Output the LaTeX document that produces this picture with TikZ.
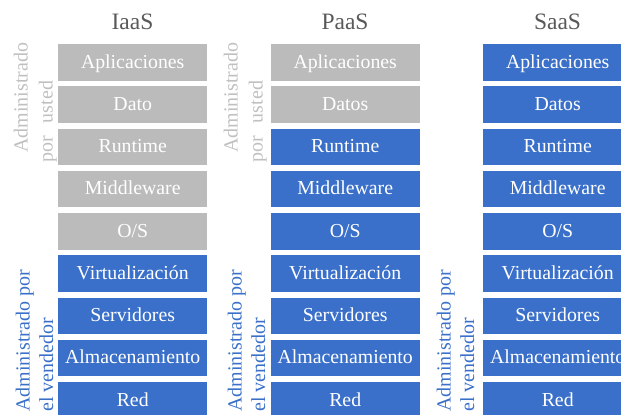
\documentclass[tikz,border=0pt]{standalone}
\usepackage{fontspec}
\setmainfont{Liberation Serif}
\definecolor{boxgray}{HTML}{BBBBBB}
\definecolor{boxblue}{HTML}{3A70C9}
\definecolor{titlegray}{HTML}{595959}
\definecolor{labelgray}{HTML}{C0C0C0}

\begin{document}
\begin{tikzpicture}[x=1bp,y=-1bp,
  layer/.style={minimum width=149bp, minimum height=36.5bp, inner sep=0pt,
    anchor=north west, text=white, text height=14.5bp, text depth=3bp,
    font=\fontsize{19.8bp}{23bp}\selectfont},
  userlayer/.style={layer, fill=boxgray},
  vendorlayer/.style={layer, fill=boxblue},
  coltitle/.style={text=titlegray, inner sep=0pt,
    font=\fontsize{23.5bp}{28bp}\selectfont},
  sidelabel/.style={rotate=90, anchor=base west, inner sep=0pt,
    font=\fontsize{20bp}{24bp}\selectfont},
  userlabel/.style={sidelabel, text=labelgray},
  vendorlabel/.style={sidelabel, text=boxblue},
]
\useasboundingbox (0,0) rectangle (621,414);
\clip (0,0) rectangle (621,414);

% IaaS stack: five layers managed by the user, four by the vendor
\foreach \txt [count=\i] in {Aplicaciones,Dato,Runtime,Middleware,O/S,Virtualización,Servidores,Almacenamiento,Red}{
  \ifnum\i>5 \def\sty{vendorlayer}\else\def\sty{userlayer}\fi
  \node[\sty] (iaas\i) at (58,{44+42.25*(\i-1)}) {\txt};
}
% PaaS stack
\foreach \txt [count=\i] in {Aplicaciones,Datos,Runtime,Middleware,O/S,Virtualización,Servidores,Almacenamiento,Red}{
  \ifnum\i>2 \def\sty{vendorlayer}\else\def\sty{userlayer}\fi
  \node[\sty] (paas\i) at (270.5,{44+42.25*(\i-1)}) {\txt};
}
% SaaS stack: everything managed by the vendor
\foreach \txt [count=\i] in {Aplicaciones,Datos,Runtime,Middleware,O/S,Virtualización,Servidores,Almacenamiento,Red}{
  \node[vendorlayer] (saas\i) at (483,{44+42.25*(\i-1)}) {\txt};
}

% column titles
\node[coltitle] (tIaaS) at (132.5,21.5) {IaaS};
\node[coltitle] (tPaaS) at (345,21.5) {PaaS};
\node[coltitle] (tSaaS) at (557.5,21.5) {SaaS};

% side labels
\node[userlabel] (uI1) at (27.5,153) {Administrado};
\node[userlabel] (uI2) at (52.5,163) {por\hspace{8bp} usted};
\node[userlabel] (uP1) at (237.5,153) {Administrado};
\node[userlabel] (uP2) at (262.5,163) {por\hspace{8bp} usted};

\node[vendorlabel] (vI1) at (29.5,412) {Administrado por};
\node[vendorlabel] (vI2) at (53,412) {el vendedor};
\node[vendorlabel] (vP1) at (241.5,412) {Administrado por};
\node[vendorlabel] (vP2) at (265,412) {el vendedor};
\node[vendorlabel] (vS1) at (450.5,412) {Administrado por};
\node[vendorlabel] (vS2) at (474,412) {el vendedor};
\end{tikzpicture}
\end{document}
